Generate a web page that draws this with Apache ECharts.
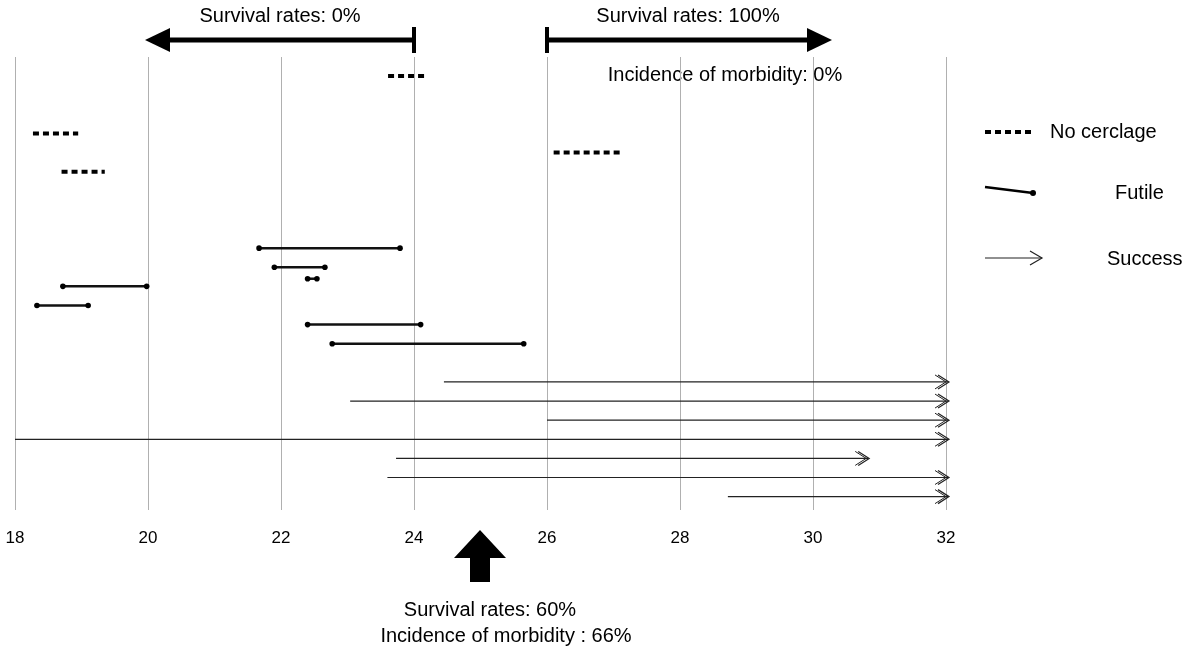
<!DOCTYPE html>
<html><head><meta charset="utf-8">
<script src="https://cdn.jsdelivr.net/npm/echarts@6/dist/echarts.min.js"></script>
<style>html,body{margin:0;background:#fff}#c{width:1200px;height:662px}</style>
</head><body><div id="c"></div>
<script>
// [row, start week, end week]
const noCerclage = [[1, 23.61, 24.17], [4, 18.27, 18.95], [5, 26.1, 27.1], [6, 18.7, 19.35]]
const futile = [[10, 21.67, 23.79], [11, 21.9, 22.66], [11.6, 22.4, 22.54], [12, 18.72, 19.98],
  [13, 18.33, 19.1], [14, 22.4, 24.1], [15, 22.77, 25.65]]
const success = [[17, 24.45, 32], [18, 23.04, 32], [19, 26, 32], [20, 18, 32],
  [21, 23.73, 30.8], [22, 23.6, 32], [23, 28.72, 32]]
const xTicks = [18, 20, 22, 24, 26, 28, 30, 32]

const font = 'Helvetica, "Liberation Sans", Arial, sans-serif'
const chart = echarts.init(document.getElementById('c'))

function seg(kind) {
  return function (params, api) {
    const a = api.coord([api.value(1), api.value(0)])
    const b = api.coord([api.value(2), api.value(0)])
    if (kind === 'dot') {
      return { type: 'line', shape: { x1: a[0], y1: a[1], x2: b[0], y2: b[1] },
        style: { stroke: '#000', lineWidth: 4, lineDash: [6, 4] } }
    }
    if (kind === 'futile') {
      return { type: 'group', children: [
        { type: 'line', shape: { x1: a[0], y1: a[1], x2: b[0], y2: b[1] }, style: { stroke: '#111', lineWidth: 2.5 } },
        { type: 'circle', shape: { cx: a[0], cy: a[1], r: 2.8 }, style: { fill: '#000' } },
        { type: 'circle', shape: { cx: b[0], cy: b[1], r: 2.8 }, style: { fill: '#000' } }
      ] }
    }
    return { type: 'group', children: [
      { type: 'line', shape: { x1: a[0], y1: a[1], x2: b[0] + 2, y2: b[1] }, style: { stroke: '#222', lineWidth: 1.2 } },
      { type: 'polyline', shape: { points: [[b[0] - 8, b[1] - 7], [b[0] + 3, b[1]], [b[0] - 8, b[1] + 7]] },
        style: { stroke: '#222', fill: null, lineWidth: 1.2 } },
      { type: 'polyline', shape: { points: [[b[0] - 11, b[1] - 7], [b[0], b[1]], [b[0] - 11, b[1] + 7]] },
        style: { stroke: '#222', fill: null, lineWidth: 1 } }
    ] }
  }
}

const txt = (x, y, s, align) => ({ type: 'text', x: x, y: y,
  style: { text: s, font: '20px ' + font, fill: '#000', textAlign: align || 'center', textVerticalAlign: 'middle' } })

chart.setOption({
  animation: false,
  grid: { left: 15, top: 57, width: 931, height: 453 },
  xAxis: {
    type: 'value', min: 18, max: 32, interval: 2,
    axisLine: { show: false }, axisTick: { show: false },
    splitLine: { show: true, lineStyle: { color: '#b0b0b0', width: 1 } },
    axisLabel: { margin: 20, fontSize: 17, color: '#000', fontFamily: font,
      formatter: v => xTicks.includes(v) ? String(v) : '' }
  },
  yAxis: { type: 'value', min: 0, max: 23.7, inverse: true, show: false, splitLine: { show: false } },
  series: [
    { type: 'custom', renderItem: seg('dot'), data: noCerclage },
    { type: 'custom', renderItem: seg('futile'), data: futile },
    { type: 'custom', renderItem: seg('success'), data: success }
  ],
  graphic: [
    // top arrows
    { type: 'line', shape: { x1: 414, y1: 40, x2: 165, y2: 40 }, style: { stroke: '#000', lineWidth: 5 } },
    { type: 'polygon', shape: { points: [[145, 40], [170, 28], [170, 52]] }, style: { fill: '#000' } },
    { type: 'line', shape: { x1: 414, y1: 27, x2: 414, y2: 53 }, style: { stroke: '#000', lineWidth: 4 } },
    txt(280, 16, 'Survival rates: 0%'),
    { type: 'line', shape: { x1: 547, y1: 40, x2: 810, y2: 40 }, style: { stroke: '#000', lineWidth: 5 } },
    { type: 'polygon', shape: { points: [[832, 40], [807, 28], [807, 52]] }, style: { fill: '#000' } },
    { type: 'line', shape: { x1: 547, y1: 27, x2: 547, y2: 53 }, style: { stroke: '#000', lineWidth: 4 } },
    txt(688, 16, 'Survival rates: 100%'),
    txt(725, 75, 'Incidence of morbidity: 0%'),
    // bottom arrow
    { type: 'polygon', shape: { points: [[480, 530], [454, 558], [470, 558], [470, 582], [490, 582], [490, 558], [506, 558]] },
      style: { fill: '#000' } },
    txt(490, 610, 'Survival rates: 60%'),
    txt(506, 636, 'Incidence of morbidity : 66%'),
    // legend
    { type: 'line', shape: { x1: 985, y1: 132, x2: 1035, y2: 132 }, style: { stroke: '#000', lineWidth: 4, lineDash: [6, 4] } },
    txt(1050, 132, 'No cerclage', 'left'),
    { type: 'line', shape: { x1: 985, y1: 187, x2: 1033, y2: 193 }, style: { stroke: '#000', lineWidth: 2.5 } },
    { type: 'circle', shape: { cx: 1033, cy: 193, r: 3 }, style: { fill: '#000' } },
    txt(1115, 193, 'Futile', 'left'),
    { type: 'line', shape: { x1: 985, y1: 258, x2: 1042, y2: 258 }, style: { stroke: '#222', lineWidth: 1.2 } },
    { type: 'polyline', shape: { points: [[1030, 251], [1042, 258], [1030, 265]] }, style: { stroke: '#222', fill: null, lineWidth: 1.2 } },
    txt(1107, 259, 'Success', 'left')
  ]
})
</script></body></html>
